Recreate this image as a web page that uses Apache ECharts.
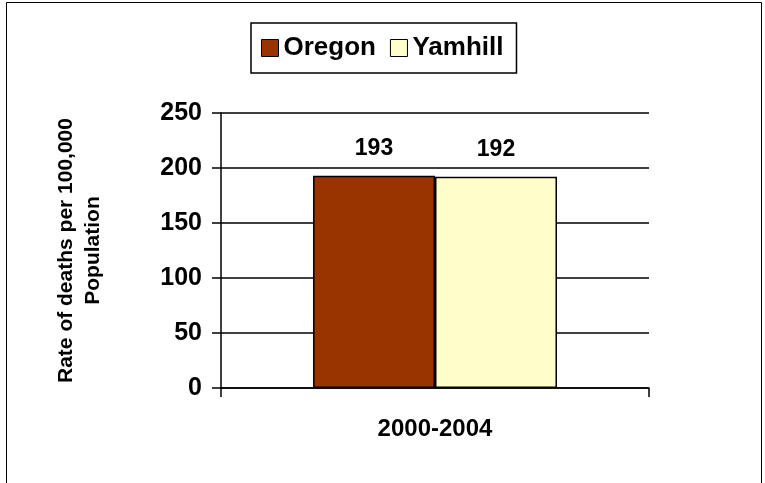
<!DOCTYPE html>
<html>
<head>
<meta charset="utf-8">
<script src="https://cdn.jsdelivr.net/npm/echarts@6/dist/echarts.min.js"></script>
<style>
  html, body { margin: 0; padding: 0; background: #fff; }
  #chart { width: 765px; height: 483px; }
</style>
</head>
<body>
<div id="chart"></div>
<script>
// Death rates per 100,000 population, 2000-2004
const categories = ['2000-2004'];
const seriesNames = ['Oregon', 'Yamhill'];
const oregonValues = [193];
const yamhillValues = [192];
const yTicks = [0, 50, 100, 150, 200, 250];

const FONT = '"Liberation Sans", Arial, sans-serif';
const chart = echarts.init(document.getElementById('chart'), null, { renderer: 'canvas' });

chart.setOption({
  backgroundColor: '#ffffff',
  animation: false,
  graphic: [{
    type: 'rect',
    shape: { x: 6.5, y: 2.5, width: 755, height: 490 },
    style: { fill: 'none', stroke: '#000', lineWidth: 1 },
    silent: true
  }],
  legend: {
    top: 23,
    left: 251,
    data: seriesNames,
    icon: 'rect',
    itemWidth: 17,
    itemHeight: 17,
    itemGap: 14,
    padding: [12, 13, 12, 10],
    borderColor: '#000',
    borderWidth: 1.5,
    backgroundColor: '#fff',
    textStyle: { fontFamily: FONT, fontWeight: 'bold', fontSize: 26, lineHeight: 25, color: '#000' },
    itemStyle: { borderColor: '#000', borderWidth: 1 }
  },
  grid: { left: 221, right: 116, top: 113, bottom: 95, containLabel: false },
  xAxis: {
    type: 'category',
    data: categories,
    axisLine: { lineStyle: { color: '#000', width: 1.5 } },
    axisTick: { show: true, length: 9, lineStyle: { color: '#000', width: 1.5 } },
    axisLabel: { fontFamily: FONT, fontWeight: 'bold', fontSize: 24, color: '#000', margin: 29 }
  },
  yAxis: {
    type: 'value',
    min: yTicks[0],
    max: yTicks[yTicks.length - 1],
    interval: yTicks[1] - yTicks[0],
    name: 'Rate of deaths per 100,000\nPopulation',
    nameLocation: 'middle',
    nameRotate: 90,
    nameGap: 114,
    nameTextStyle: { fontFamily: FONT, fontWeight: 'bold', fontSize: 21, color: '#000', lineHeight: 27, align: 'center' },
    axisLine: { show: true, lineStyle: { color: '#000', width: 1.5 } },
    axisTick: { show: true, length: 9, lineStyle: { color: '#000', width: 1.5 } },
    axisLabel: { fontFamily: FONT, fontWeight: 'bold', fontSize: 25, color: '#000', margin: 19 },
    splitLine: { show: true, lineStyle: { color: '#000', width: 1.5 } }
  },
  series: [
    {
      name: seriesNames[0],
      type: 'bar',
      data: oregonValues,
      barGap: '0%',
      barCategoryGap: '43%',
      itemStyle: { color: '#993300', borderColor: '#000', borderWidth: 1.5 },
      label: { show: true, position: 'top', distance: 16, fontFamily: FONT, fontWeight: 'bold', fontSize: 23, color: '#000' }
    },
    {
      name: seriesNames[1],
      type: 'bar',
      data: yamhillValues,
      itemStyle: { color: '#FFFFCC', borderColor: '#000', borderWidth: 1.5 },
      label: { show: true, position: 'top', distance: 16, fontFamily: FONT, fontWeight: 'bold', fontSize: 23, color: '#000' }
    }
  ]
});
</script>
</body>
</html>
